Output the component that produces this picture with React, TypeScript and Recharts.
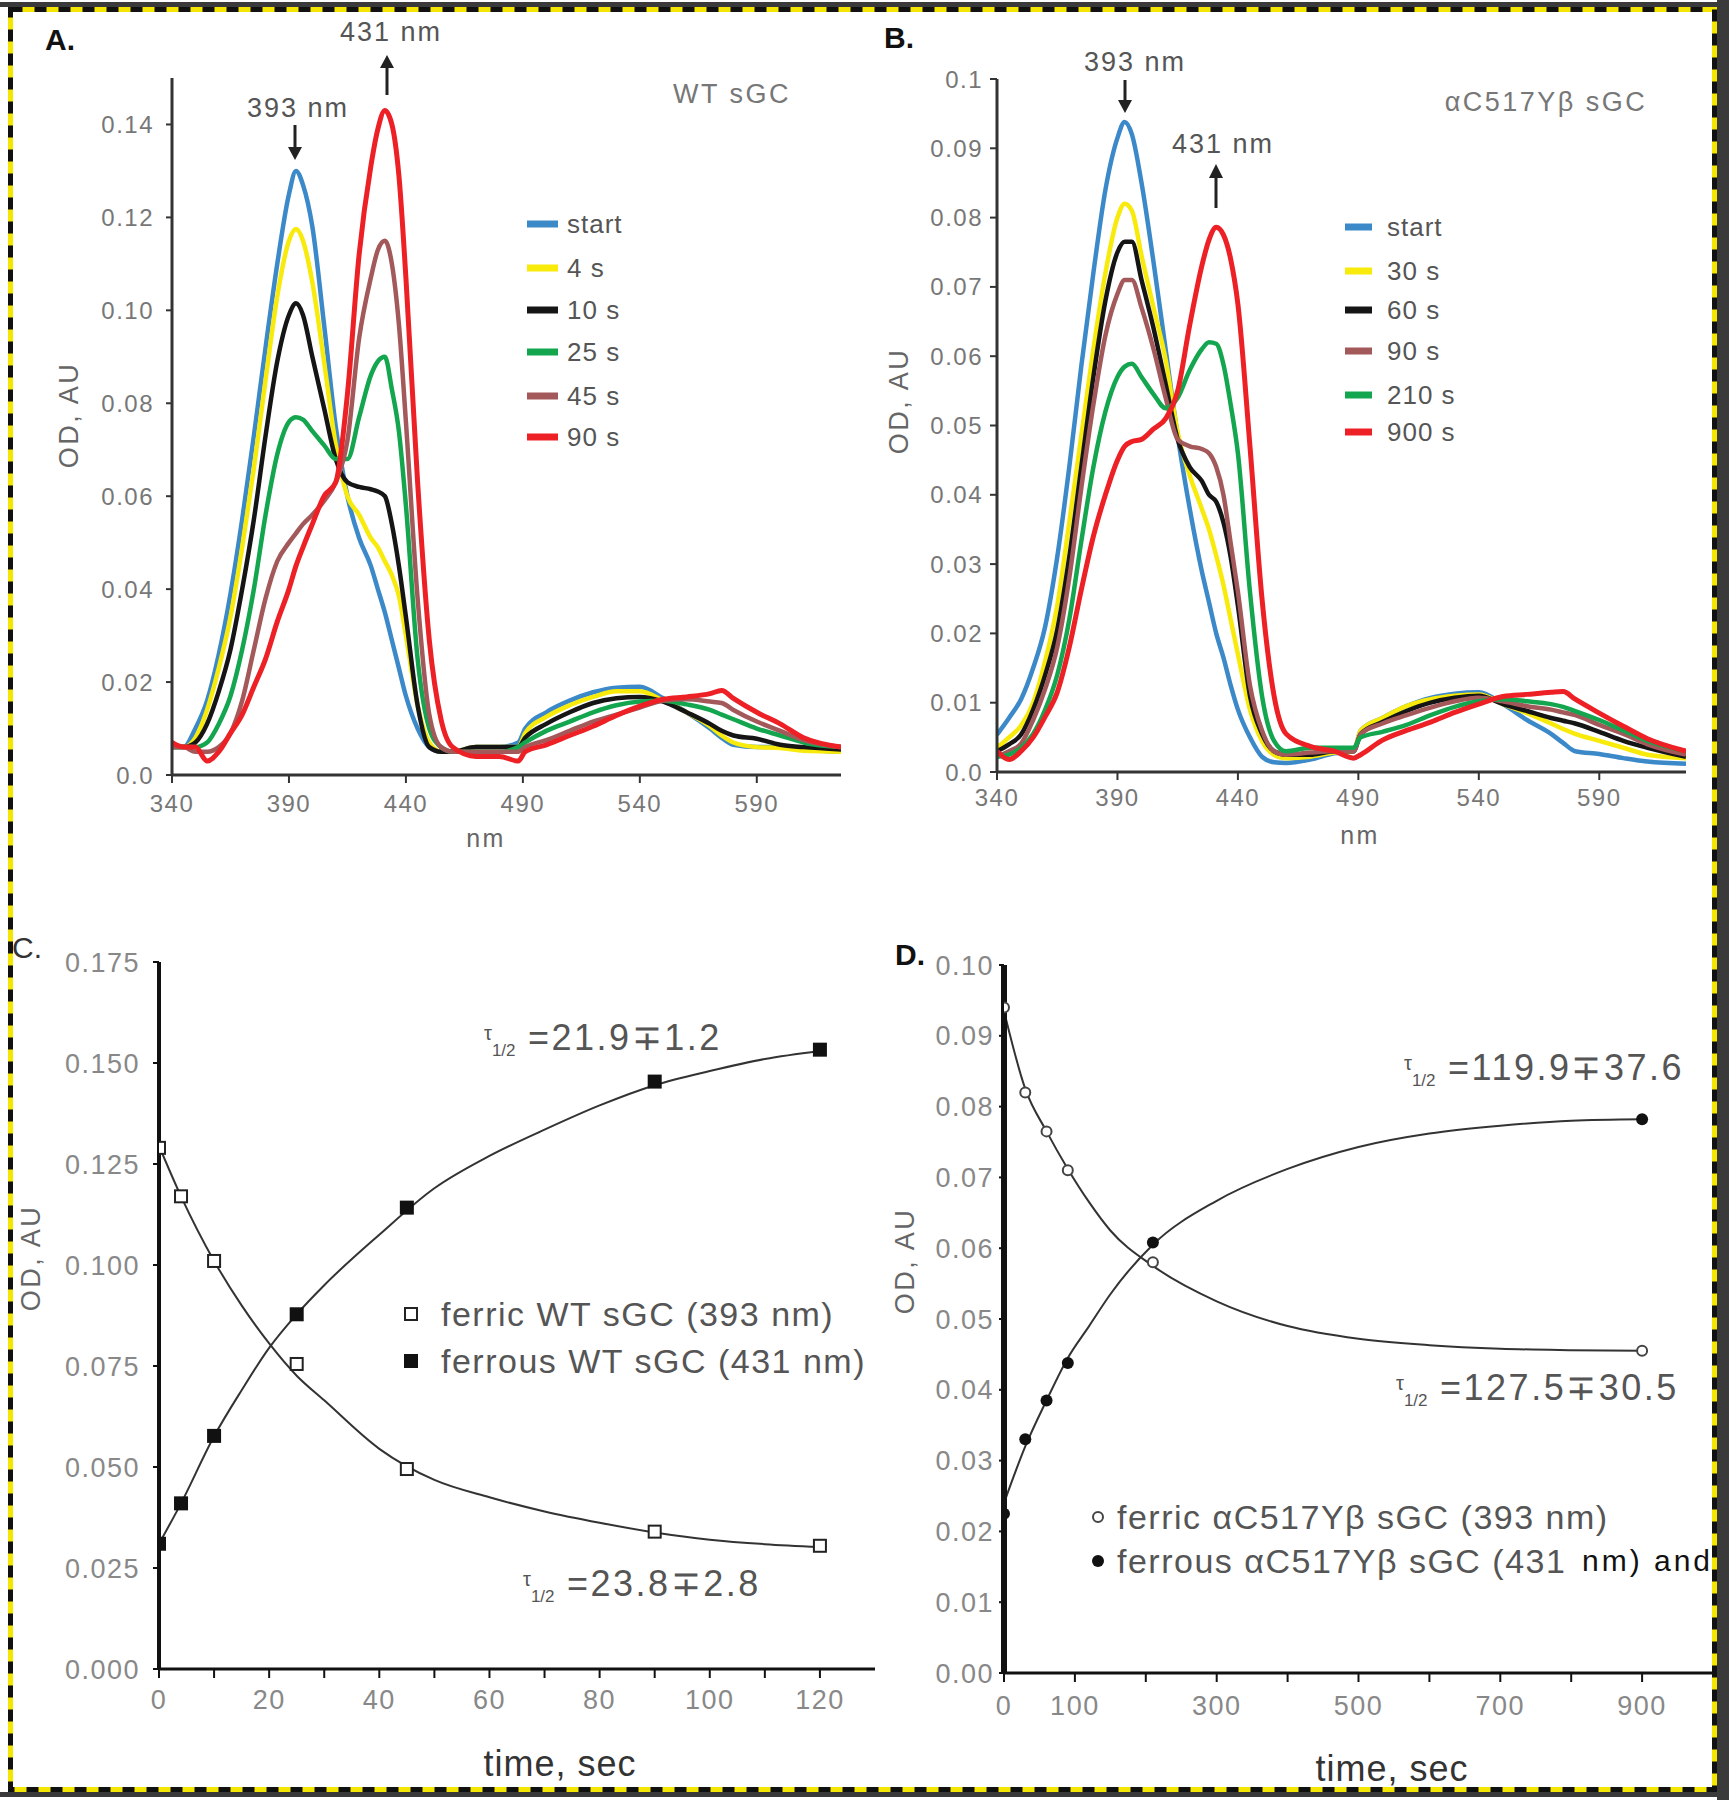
import React from 'react';
import { LineChart, Line, XAxis, YAxis, ComposedChart, Scatter } from 'recharts';

const FONT = "'Liberation Sans', Arial, Helvetica, sans-serif";

// ---------- Panels A & B : spectra ----------
const WAVELENGTH_NM = [340, 345, 350, 355, 360, 365, 370, 375, 380, 385, 390, 393, 396, 400, 405, 410, 415, 420, 425, 428, 431, 434, 437, 440, 445, 450, 455, 460, 470, 480, 488, 491, 500, 510, 520, 530, 540, 550, 560, 570, 575, 580, 590, 600, 610, 626];
const NM_TICKS = [340, 390, 440, 490, 540, 590];

const WT_START = [
  .006, .006, .010, .016, .026, .039, .055, .073, .092, .110,
  .125, .130, .127, .118, .097, .075, .060, .051, .045, .040,
  .035, .029, .023, .017, .010, .006, .005, .005, .006, .006,
  .007, .010, .0135, .016, .0178, .0188, .019, .0165, .0135, .010,
  .008, .0065, .006, .006, .0055, .005];
const WT_4S = [
  .006, .006, .008, .014, .023, .034, .049, .066, .085, .103,
  .115, .1175, .115, .106, .089, .071, .060, .056, .051, .049,
  .046, .043, .0385, .030, .015, .007, .005, .005, .006, .006,
  .006, .009, .0125, .015, .0168, .018, .018, .016, .0135, .0105,
  .0085, .007, .006, .0058, .0052, .005];
const WT_10S = [
  .006, .006, .007, .011, .018, .027, .040, .055, .073, .089,
  .099, .1015, .099, .090, .079, .068, .063, .062, .0615, .061,
  .060, .054, .045, .034, .015, .006, .005, .005, .006, .006,
  .006, .008, .011, .0135, .0155, .0165, .0168, .0158, .0135, .011,
  .0095, .0085, .0078, .0065, .006, .0055];
const WT_25S = [
  .006, .006, .006, .007, .011, .017, .027, .040, .056, .069,
  .076, .077, .0765, .074, .071, .068, .068, .077, .086, .089,
  .090, .083, .074, .058, .025, .010, .006, .005, .005, .005,
  .006, .007, .0095, .0115, .0135, .015, .0158, .016, .0152, .014,
  .013, .012, .010, .0085, .007, .006];
const WT_45S = [
  .006, .006, .005, .005, .006, .009, .016, .027, .038, .046,
  .050, .052, .054, .056, .059, .063, .072, .094, .107, .113,
  .115, .110, .097, .076, .038, .013, .006, .005, .005, .005,
  .005, .006, .0075, .0095, .0115, .013, .0145, .016, .0163, .0158,
  .0155, .014, .0115, .0095, .0075, .006];
const WT_90S = [
  .007, .006, .006, .003, .005, .009, .013, .019, .025, .033,
  .040, .045, .049, .054, .060, .063, .082, .112, .131, .139,
  .143, .140, .129, .107, .063, .029, .012, .006, .004, .004,
  .003, .005, .0065, .0085, .0105, .0128, .0148, .0163, .0168, .0175,
  .0182, .0165, .0135, .011, .008, .006];

const MUT_START = [
  .0054, .0078, .0105, .015, .021, .031, .044, .0586, .072, .084,
  .0915, .0938, .092, .085, .0735, .061, .0485, .038, .029, .0245,
  .020, .0165, .0125, .009, .005, .0022, .0014, .0013, .0018, .0027,
  .003, .006, .0078, .0095, .0107, .0113, .0115, .0098, .0075, .0055,
  .0042, .003, .0026, .002, .0015, .0012];
const MUT_30S = [
  .0035, .005, .0067, .010, .016, .024, .036, .0485, .061, .072,
  .080, .082, .081, .0745, .067, .0595, .049, .0428, .038, .035,
  .0312, .027, .022, .017, .009, .0045, .0025, .002, .0022, .0028,
  .003, .006, .0078, .0095, .0105, .011, .0112, .0098, .0085, .007,
  .0062, .0055, .0045, .0035, .0025, .002];
const MUT_60S = [
  .003, .004, .0054, .009, .014, .0205, .031, .044, .057, .068,
  .075, .0765, .0765, .071, .064, .056, .048, .044, .042, .040,
  .039, .036, .031, .024, .011, .0055, .003, .0025, .0025, .003,
  .003, .0055, .0072, .0088, .010, .0107, .011, .0098, .0088, .0078,
  .0074, .007, .0058, .0045, .0035, .0022];
const MUT_90S = [
  .0022, .003, .0041, .0075, .012, .018, .028, .041, .053, .063,
  .069, .071, .071, .067, .061, .054, .048, .047, .0466, .046,
  .044, .040, .033, .026, .0125, .006, .003, .0025, .0028, .003,
  .003, .0055, .007, .0082, .0093, .0102, .0107, .0102, .0095, .009,
  .0086, .0082, .0068, .0055, .004, .0025];
const MUT_210S = [
  .0022, .0025, .0035, .0055, .009, .014, .022, .0333, .044, .052,
  .057, .0585, .0589, .057, .0545, .0525, .054, .058, .061, .062,
  .0618, .0588, .053, .046, .026, .011, .0045, .003, .0035, .0035,
  .0035, .005, .0058, .0068, .0082, .0094, .0102, .0105, .0102, .0098,
  .0094, .0088, .0075, .006, .0045, .003];
const MUT_900S = [
  .003, .0018, .003, .005, .008, .0115, .018, .0263, .034, .040,
  .045, .047, .0477, .048, .0495, .051, .055, .0645, .073, .0768,
  .0786, .0775, .074, .0675, .047, .025, .011, .0055, .0037, .003,
  .002, .0025, .0046, .006, .0072, .0086, .0098, .0109, .0112, .0115,
  .0116, .0105, .0085, .0066, .0048, .003];

const BLUE = '#3c89c9';
const YELLOW = '#f8ea0a';
const BLACK = '#151515';
const GREEN = '#13a64f';
const BROWN = '#a3585a';
const RED = '#ec2025';
const WT_COLORS = [BLUE, YELLOW, BLACK, GREEN, BROWN, RED];
const MUT_COLORS = [BLUE, YELLOW, BLACK, BROWN, GREEN, RED];
const WT_LABELS = ['start', '4 s', '10 s', '25 s', '45 s', '90 s'];
const MUT_LABELS = ['start', '30 s', '60 s', '90 s', '210 s', '900 s'];

const A_Y_TICKS = [0, 0.02, 0.04, 0.06, 0.08, 0.10, 0.12, 0.14];
const B_Y_TICKS = [0, 0.01, 0.02, 0.03, 0.04, 0.05, 0.06, 0.07, 0.08, 0.09, 0.1];

// ---------- Panel C : WT kinetics ----------
const C_TIME = [0, 4, 10, 25, 45, 90, 120];
const C_FERRIC = [0.129, 0.117, 0.101, 0.0755, 0.0495, 0.034, 0.0305];
const C_FERROUS = [0.031, 0.041, 0.0577, 0.0878, 0.1142, 0.1454, 0.1533];
const C_FIT_TIME = [0, 4, 10, 15, 20, 25, 30, 40, 50, 60, 70, 80, 90, 100, 110, 120];
const C_FIT_FERRIC = [0.1295, 0.117, 0.101, 0.090, 0.0806, 0.0726, 0.0665, 0.0545, 0.0468, 0.0425, 0.039, 0.0362, 0.0338, 0.032, 0.0309, 0.0302];
const C_FIT_FERROUS = [0.031, 0.041, 0.0576, 0.069, 0.0795, 0.0878, 0.095, 0.1075, 0.119, 0.127, 0.1335, 0.1395, 0.1445, 0.148, 0.151, 0.153];
const C_X_TICKS = [0, 10, 20, 30, 40, 50, 60, 70, 80, 90, 100, 110, 120];
const C_Y_TICKS = [0, 0.025, 0.05, 0.075, 0.1, 0.125, 0.15, 0.175];

// ---------- Panel D : mutant kinetics ----------
const D_TIME = [0, 30, 60, 90, 210, 900];
const D_FERRIC = [0.094, 0.082, 0.0765, 0.071, 0.058, 0.0455];
const D_FERROUS = [0.0225, 0.033, 0.0385, 0.0438, 0.0608, 0.0782];
const D_FIT_TIME = [0, 30, 60, 90, 120, 150, 210, 300, 400, 500, 600, 700, 800, 900];
const D_FIT_FERRIC = [0.0935, 0.0825, 0.0765, 0.0712, 0.0665, 0.0625, 0.0575, 0.0525, 0.049, 0.0472, 0.0463, 0.0458, 0.0456, 0.0455];
const D_FIT_FERROUS = [0.024, 0.032, 0.0385, 0.0445, 0.049, 0.0535, 0.0605, 0.0667, 0.0712, 0.0743, 0.0762, 0.0773, 0.078, 0.0782];
const D_X_TICKS = [0, 100, 200, 300, 400, 500, 600, 700, 800, 900, 1000];
const D_X_LABELED = [0, 100, 300, 500, 700, 900];
const D_Y_TICKS = [0, 0.01, 0.02, 0.03, 0.04, 0.05, 0.06, 0.07, 0.08, 0.09, 0.1];

// ---------- helpers ----------
function buildSpectraRows(series: number[][]) {
  return WAVELENGTH_NM.map((nm, i) => {
    const row: Record<string, number> = { nm };
    series.forEach((arr, k) => { row['s' + k] = arr[i]; });
    return row;
  });
}
function buildXY(xs: number[], ys: number[]) {
  return xs.map((t, i) => ({ t, v: ys[i] }));
}

const WT_ROWS = buildSpectraRows([WT_START, WT_4S, WT_10S, WT_25S, WT_45S, WT_90S]);
const MUT_ROWS = buildSpectraRows([MUT_START, MUT_30S, MUT_60S, MUT_90S, MUT_210S, MUT_900S]);

const fmtA = (v: number) => (v === 0 ? '0.0' : v.toFixed(2));
const fmtB = (v: number) => (v === 0 ? '0.0' : v === 0.1 ? '0.1' : v.toFixed(2));

type SpectraProps = {
  left: number; top: number; width: number; height: number;
  margin: { top: number; right: number; bottom: number; left: number };
  yMax: number; yTicks: number[]; yFmt: (v: number) => string;
  rows: Record<string, number>[]; colors: string[];
  yTickSize: number; yTickMargin: number; xTickSize: number; xTickMargin: number;
};

function SpectraPanel(p: SpectraProps) {
  const tickStyle = { fill: '#777', fontSize: 24, fontFamily: FONT, letterSpacing: 1.5 };
  return (
    <div style={{ position: 'absolute', left: p.left, top: p.top, width: p.width, height: p.height }}>
      <LineChart width={p.width} height={p.height} data={p.rows} margin={p.margin}>
        <XAxis type="number" dataKey="nm" domain={[340, 626]} ticks={NM_TICKS} allowDataOverflow interval={0}
          height={40} tickSize={p.xTickSize} tickMargin={p.xTickMargin}
          axisLine={{ stroke: '#333', strokeWidth: 3 }} tickLine={{ stroke: '#333', strokeWidth: 2 }} tick={tickStyle} />
        <YAxis type="number" domain={[0, p.yMax]} ticks={p.yTicks} tickFormatter={p.yFmt} allowDataOverflow interval={0}
          width={100} tickSize={p.yTickSize} tickMargin={p.yTickMargin}
          axisLine={{ stroke: '#333', strokeWidth: 3 }} tickLine={{ stroke: '#333', strokeWidth: 2 }} tick={tickStyle} />
        {p.colors.map((c, k) => (
          <Line key={k} dataKey={'s' + k} type="monotone" stroke={c} strokeWidth={k === 5 ? 5 : 4.5}
            dot={false} activeDot={false} isAnimationActive={false} />
        ))}
      </LineChart>
    </div>
  );
}

const openSquare = (p: any) => <rect x={p.cx - 6} y={p.cy - 6} width={12} height={12} fill="#fff" stroke="#222" strokeWidth={2} />;
const filledSquare = (p: any) => <rect x={p.cx - 7} y={p.cy - 7} width={14} height={14} fill="#111" />;
const openCircle = (p: any) => <circle cx={p.cx} cy={p.cy} r={5} fill="#fff" stroke="#444" strokeWidth={2} />;
const filledCircle = (p: any) => <circle cx={p.cx} cy={p.cy} r={6} fill="#111" />;

function PanelC() {
  const tickStyle = { fill: '#888', fontSize: 27, fontFamily: FONT, letterSpacing: 1.5 };
  return (
    <div style={{ position: 'absolute', left: 0, top: 880, width: 900, height: 920 }}>
      <ComposedChart width={900} height={920} margin={{ top: 82, right: 25, bottom: 81, left: 59 }}>
        <XAxis type="number" dataKey="t" domain={[0, 130]} ticks={C_X_TICKS} allowDataOverflow interval={0}
          tickFormatter={(v: number) => (v % 20 === 0 ? String(v) : '')}
          height={50} tickSize={9} tickMargin={12}
          axisLine={{ stroke: '#111', strokeWidth: 3 }} tickLine={{ stroke: '#111', strokeWidth: 2 }} tick={tickStyle} />
        <YAxis type="number" dataKey="v" domain={[0, 0.175]} ticks={C_Y_TICKS} allowDataOverflow interval={0}
          tickFormatter={(v: number) => v.toFixed(3)}
          width={100} tickSize={6} tickMargin={13}
          axisLine={{ stroke: '#111', strokeWidth: 4 }} tickLine={{ stroke: '#111', strokeWidth: 2 }} tick={tickStyle} />
        <Line data={buildXY(C_FIT_TIME, C_FIT_FERRIC)} dataKey="v" type="monotone" stroke="#333" strokeWidth={2}
          dot={false} activeDot={false} isAnimationActive={false} />
        <Line data={buildXY(C_FIT_TIME, C_FIT_FERROUS)} dataKey="v" type="monotone" stroke="#333" strokeWidth={2}
          dot={false} activeDot={false} isAnimationActive={false} />
        <Scatter data={buildXY(C_TIME, C_FERRIC)} dataKey="v" shape={openSquare} isAnimationActive={false} />
        <Scatter data={buildXY(C_TIME, C_FERROUS)} dataKey="v" shape={filledSquare} isAnimationActive={false} />
      </ComposedChart>
    </div>
  );
}

function PanelD() {
  const tickStyle = { fill: '#888', fontSize: 27, fontFamily: FONT, letterSpacing: 1.5 };
  return (
    <div style={{ position: 'absolute', left: 860, top: 880, width: 869, height: 920 }}>
      <ComposedChart width={869} height={920} margin={{ top: 85, right: 16, bottom: 77, left: 44 }}>
        <XAxis type="number" dataKey="t" domain={[0, 1000]} ticks={D_X_TICKS} allowDataOverflow interval={0}
          tickFormatter={(v: number) => (D_X_LABELED.includes(v) ? String(v) : '')}
          height={50} tickSize={9} tickMargin={14}
          axisLine={{ stroke: '#111', strokeWidth: 3 }} tickLine={{ stroke: '#111', strokeWidth: 2 }} tick={tickStyle} />
        <YAxis type="number" dataKey="v" domain={[0, 0.1]} ticks={D_Y_TICKS} allowDataOverflow interval={0}
          tickFormatter={(v: number) => v.toFixed(2)}
          width={100} tickSize={5} tickMargin={5}
          axisLine={{ stroke: '#111', strokeWidth: 6 }} tickLine={{ stroke: '#111', strokeWidth: 2 }} tick={tickStyle} />
        <Line data={buildXY(D_FIT_TIME, D_FIT_FERRIC)} dataKey="v" type="monotone" stroke="#333" strokeWidth={2}
          dot={false} activeDot={false} isAnimationActive={false} />
        <Line data={buildXY(D_FIT_TIME, D_FIT_FERROUS)} dataKey="v" type="monotone" stroke="#333" strokeWidth={2}
          dot={false} activeDot={false} isAnimationActive={false} />
        <Scatter data={buildXY(D_TIME, D_FERRIC)} dataKey="v" shape={openCircle} isAnimationActive={false} />
        <Scatter data={buildXY(D_TIME, D_FERROUS)} dataKey="v" shape={filledCircle} isAnimationActive={false} />
      </ComposedChart>
    </div>
  );
}

function Tau({ x, y, rest }: { x: number; y: number; rest: string }) {
  return (
    <text x={x} y={y} fill="#555" fontFamily={FONT} fontSize={36} letterSpacing={2.5}>
      <tspan fontSize={20} dy={-10} letterSpacing={0}>τ</tspan>
      <tspan fontSize={17} dy={16} letterSpacing={0}>1/2</tspan>
      <tspan dy={-6}>{' =' + rest}</tspan>
    </text>
  );
}

function Overlay() {
  const annot = { fill: '#555', fontFamily: FONT, fontSize: 27, letterSpacing: 2 } as any;
  const legendText = { fill: '#555', fontFamily: FONT, fontSize: 26, letterSpacing: 1 } as any;
  const bigLegend = { fill: '#555', fontFamily: FONT, fontSize: 34, letterSpacing: 1.5 } as any;
  const axTitle = { fill: '#666', fontFamily: FONT, fontSize: 27, letterSpacing: 2.5 } as any;
  const letter = { fill: '#111', fontFamily: FONT, fontSize: 30, fontWeight: 700 } as any;
  const aRows = [224, 268, 310, 352, 396, 437];
  const bRows = [227, 271, 310, 351, 395, 432];
  return (
    <svg width={1729} height={1800} style={{ position: 'absolute', left: 0, top: 0, pointerEvents: 'none' }}>
      {/* frame */}
      <rect x={0} y={2} width={1729} height={5} fill="#3a3a3a" />
      <rect x={1717} y={0} width={12} height={1800} fill="#3a3a3a" />
      <rect x={0} y={1792} width={1729} height={5} fill="#3a3a3a" />
      <rect x={10.5} y={9.5} width={1704} height={1780} fill="none" stroke="#f4e600" strokeWidth={5} />
      <rect x={10.5} y={9.5} width={1704} height={1780} fill="none" stroke="#111" strokeWidth={5} strokeDasharray="12 12" />

      {/* Panel A */}
      <text x={45} y={50} {...letter}>A.</text>
      <text x={391} y={41} textAnchor="middle" {...annot}>431 nm</text>
      <line x1={387} y1={95} x2={387} y2={64} stroke="#222" strokeWidth={3} />
      <polygon points="380,68 394,68 387,55" fill="#222" />
      <text x={298} y={117} textAnchor="middle" {...annot}>393 nm</text>
      <line x1={295} y1={125} x2={295} y2={150} stroke="#222" strokeWidth={3} />
      <polygon points="288,147 302,147 295,160" fill="#222" />
      <text x={732} y={103} textAnchor="middle" {...annot} fill="#777" letterSpacing={2.5}>WT sGC</text>
      {WT_LABELS.map((lab, k) => (
        <g key={lab}>
          <line x1={527} y1={aRows[k]} x2={558} y2={aRows[k]} stroke={WT_COLORS[k]} strokeWidth={7} />
          <text x={567} y={aRows[k] + 9} {...legendText}>{lab}</text>
        </g>
      ))}
      <text x={486} y={847} textAnchor="middle" {...axTitle} fontSize={25}>nm</text>
      <text transform="translate(78,415) rotate(-90)" textAnchor="middle" {...axTitle}>OD, AU</text>

      {/* Panel B */}
      <text x={884} y={48} {...letter}>B.</text>
      <text x={1135} y={71} textAnchor="middle" {...annot}>393 nm</text>
      <line x1={1125} y1={80} x2={1125} y2={103} stroke="#222" strokeWidth={3} />
      <polygon points="1118,100 1132,100 1125,113" fill="#222" />
      <text x={1223} y={153} textAnchor="middle" {...annot}>431 nm</text>
      <line x1={1216} y1={208} x2={1216} y2={175} stroke="#222" strokeWidth={3} />
      <polygon points="1209,178 1223,178 1216,164" fill="#222" />
      <text x={1546} y={111} textAnchor="middle" {...annot} fill="#777" letterSpacing={2.5}>αC517Yβ sGC</text>
      {MUT_LABELS.map((lab, k) => (
        <g key={lab}>
          <line x1={1345} y1={bRows[k]} x2={1372} y2={bRows[k]} stroke={MUT_COLORS[k]} strokeWidth={7} />
          <text x={1387} y={bRows[k] + 9} {...legendText}>{lab}</text>
        </g>
      ))}
      <text x={1360} y={844} textAnchor="middle" {...axTitle} fontSize={25}>nm</text>
      <text transform="translate(908,401) rotate(-90)" textAnchor="middle" {...axTitle}>OD, AU</text>

      {/* Panel C */}
      <text x={12} y={958} {...letter} fontWeight={400} fill="#333">C.</text>
      <text transform="translate(40,1258) rotate(-90)" textAnchor="middle" {...axTitle}>OD, AU</text>
      <Tau x={484} y={1050} rest="21.9∓1.2" />
      <Tau x={523} y={1596} rest="23.8∓2.8" />
      {openSquare({ cx: 411, cy: 1314 })}
      <text x={441} y={1326} {...bigLegend}>ferric WT sGC (393 nm)</text>
      {filledSquare({ cx: 411, cy: 1361 })}
      <text x={441} y={1373} {...bigLegend}>ferrous WT sGC (431 nm)</text>
      <text x={560} y={1776} textAnchor="middle" fill="#333" fontFamily={FONT} fontSize={36} letterSpacing={1}>time, sec</text>

      {/* Panel D */}
      <text x={895} y={965} {...letter}>D.</text>
      <text transform="translate(914,1261) rotate(-90)" textAnchor="middle" {...axTitle}>OD, AU</text>
      <Tau x={1404} y={1080} rest="119.9∓37.6" />
      <Tau x={1396} y={1400} rest="127.5∓30.5" />
      {openCircle({ cx: 1098, cy: 1517 })}
      <text x={1117} y={1529} {...bigLegend}>ferric αC517Yβ sGC (393 nm)</text>
      {filledCircle({ cx: 1098, cy: 1561 })}
      <text x={1117} y={1573} {...bigLegend}>ferrous αC517Yβ sGC (431</text>
      <text x={1582} y={1571} fill="#111" fontFamily={FONT} fontSize={30} letterSpacing={3}>nm) and</text>
      <text x={1392} y={1781} textAnchor="middle" fill="#333" fontFamily={FONT} fontSize={36} letterSpacing={1}>time, sec</text>
    </svg>
  );
}

export default function App() {
  return (
    <div style={{ position: 'absolute', left: 0, top: 0, width: 1729, height: 1800, background: '#fff', overflow: 'hidden', fontFamily: FONT }}>
      <SpectraPanel left={0} top={0} width={870} height={880}
        margin={{ top: 78, right: 29, bottom: 65, left: 72 }}
        yMax={0.15} yTicks={A_Y_TICKS} yFmt={fmtA} rows={WT_ROWS} colors={WT_COLORS}
        yTickSize={6} yTickMargin={12} xTickSize={8} xTickMargin={12} />
      <SpectraPanel left={860} top={0} width={869} height={880}
        margin={{ top: 79, right: 43, bottom: 68, left: 37 }}
        yMax={0.1} yTicks={B_Y_TICKS} yFmt={fmtB} rows={MUT_ROWS} colors={MUT_COLORS}
        yTickSize={7} yTickMargin={7} xTickSize={8} xTickMargin={9} />
      <PanelC />
      <PanelD />
      <Overlay />
    </div>
  );
}
